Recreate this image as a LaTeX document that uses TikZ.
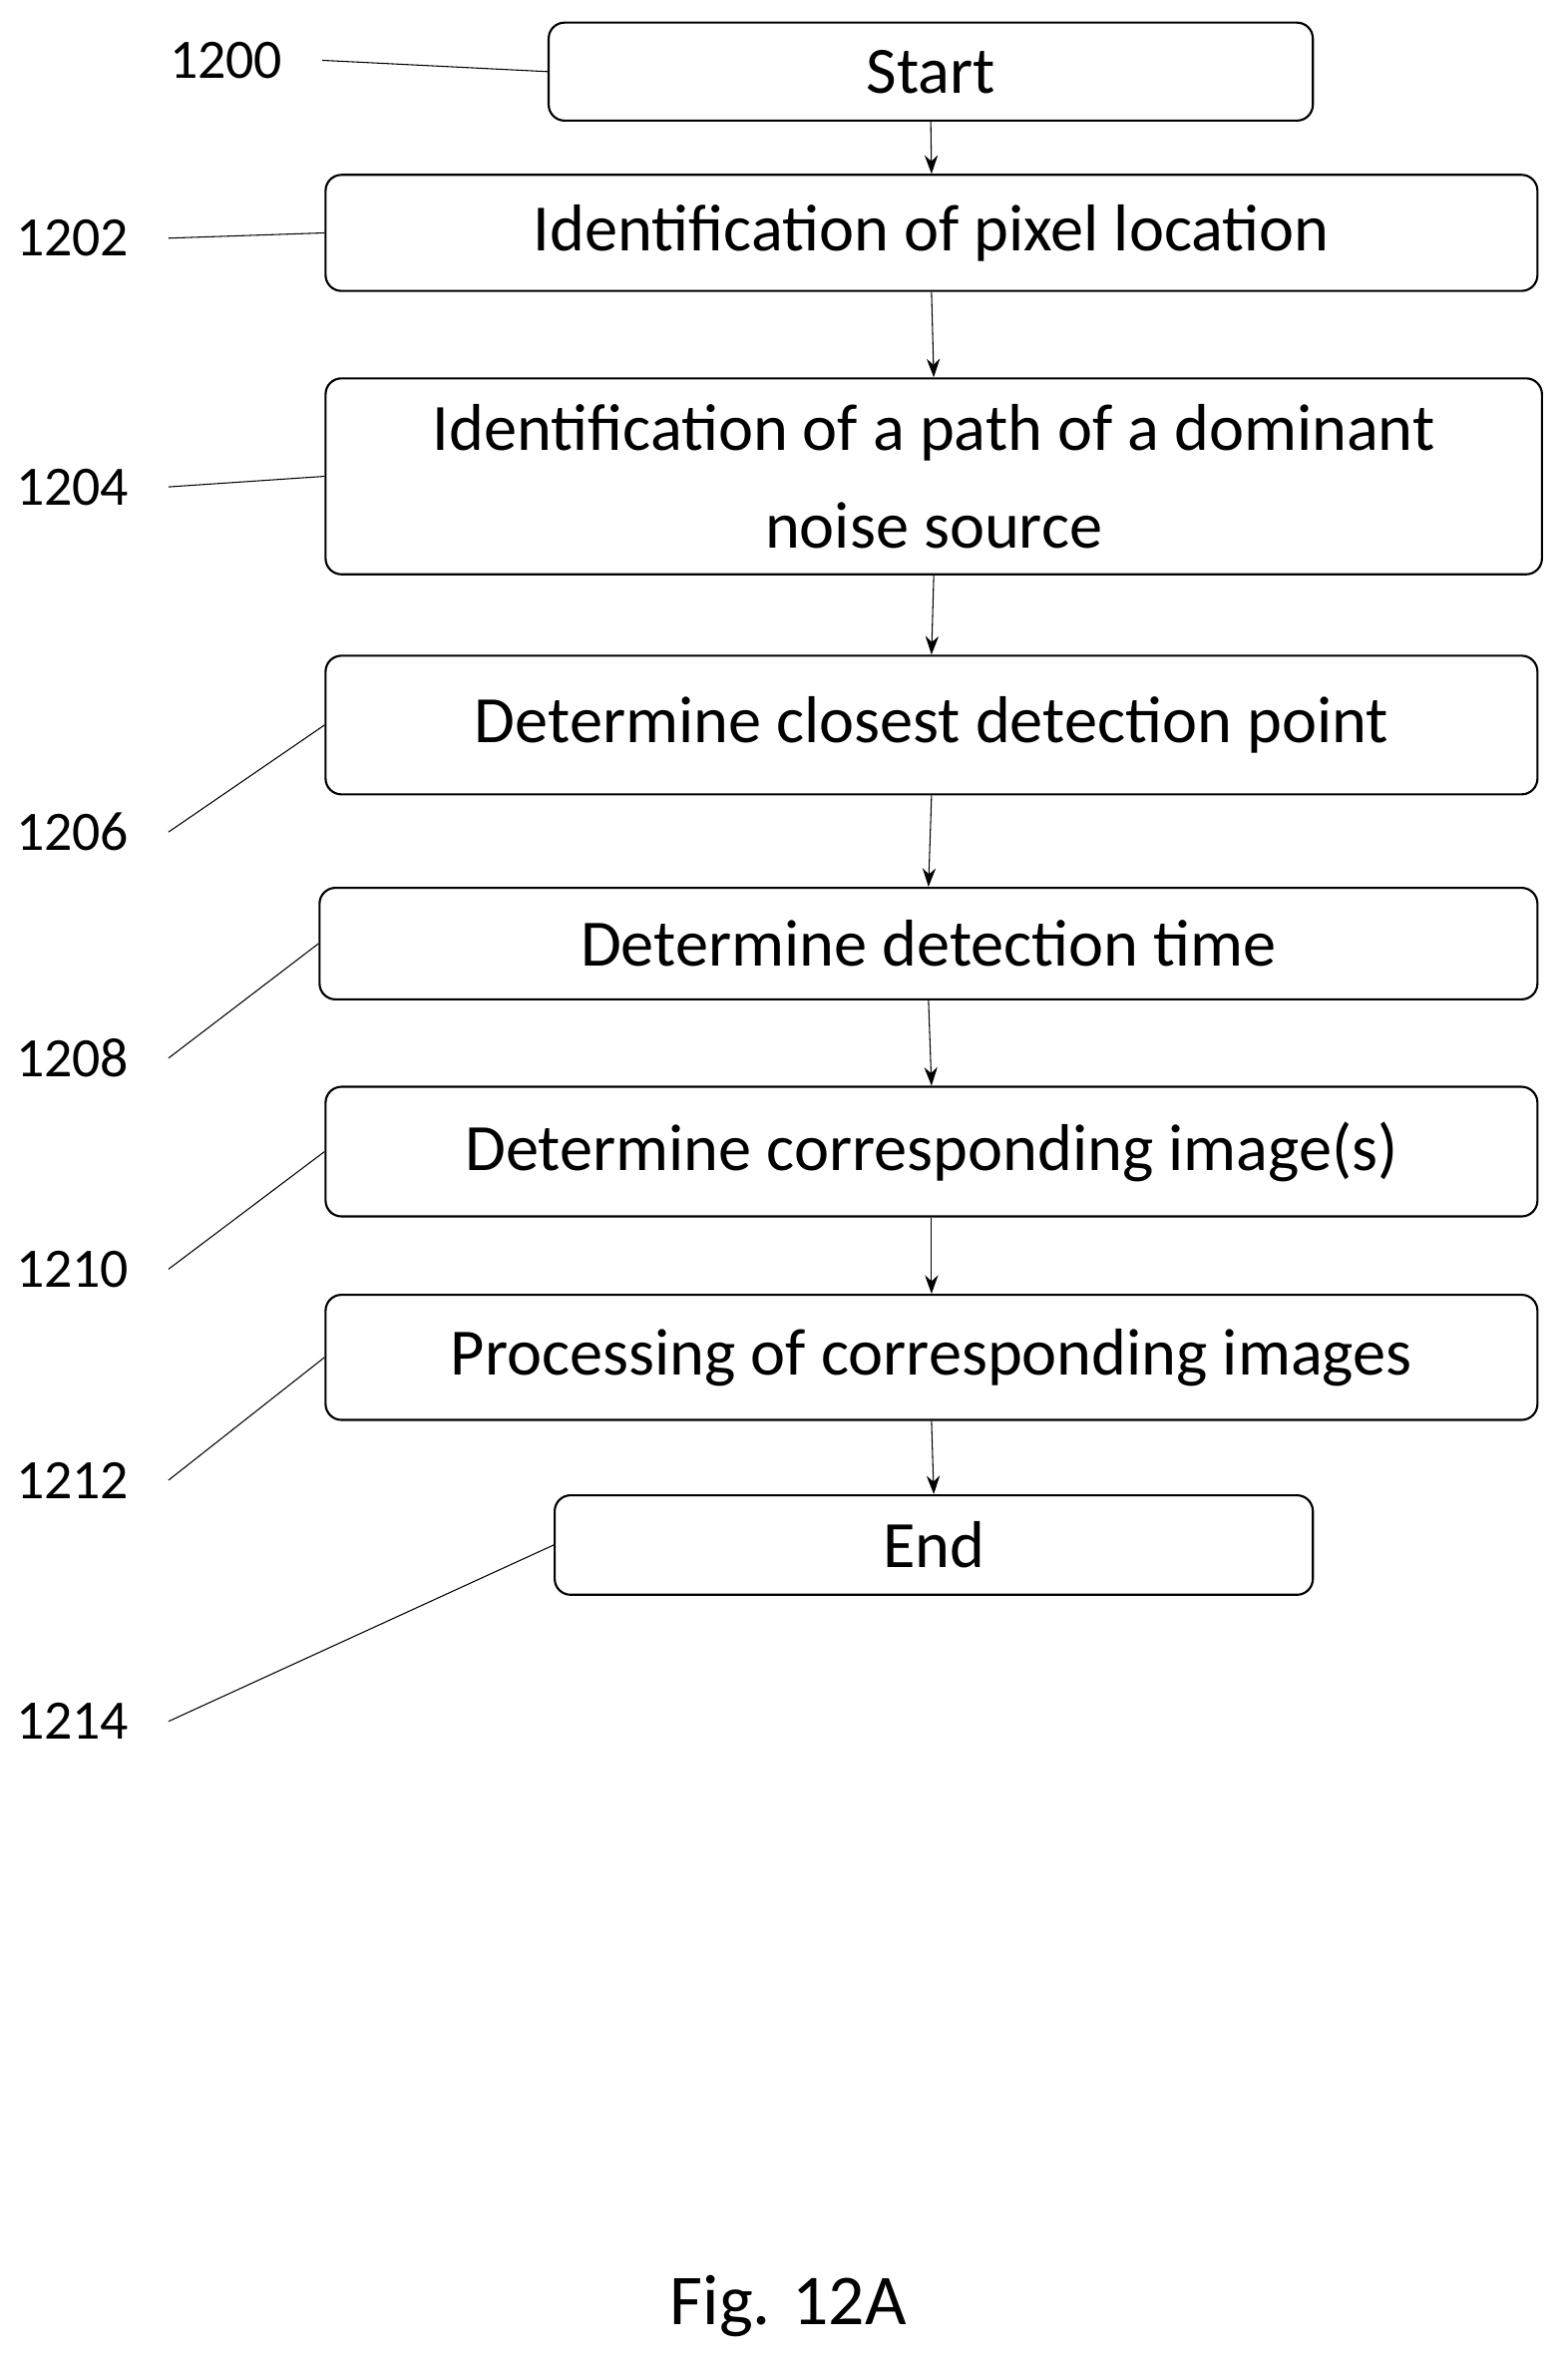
\documentclass[tikz,border=0pt]{standalone}
\usepackage{fontspec}
\setmainfont{Carlito}
\usetikzlibrary{arrows.meta}
\begin{document}
\begin{tikzpicture}[>={Stealth[length=7pt,width=5pt]},
	step node/.style = {rectangle,draw,rounded corners=6pt,thick,align=center,font=\fontsize{25}{37}\selectfont},
	ref node/.style = {font=\fontsize{21}{24}\selectfont,inner sep=2pt}]
	\useasboundingbox (0,0) rectangle (20.8,-31.42);

	\node[step node,minimum width=10.14cm,minimum height=1.3cm] (start) at (12.35,-0.95) {Start};
	\node[step node,minimum width=16.08cm,minimum height=1.54cm] (pixel) at (12.36,-3.09) {Identification of pixel location};
	\node[step node,minimum width=16.14cm,minimum height=2.6cm] (path) at (12.39,-6.32) {Identification of a path of a dominant\\noise source};
	\node[step node,minimum width=16.08cm,minimum height=1.84cm] (closest) at (12.36,-9.62) {Determine closest detection point};
	\node[step node,minimum width=16.16cm,minimum height=1.48cm] (time) at (12.32,-12.52) {Determine detection time};
	\node[step node,minimum width=16.08cm,minimum height=1.72cm] (images) at (12.36,-15.28) {Determine corresponding image(s)};
	\node[step node,minimum width=16.08cm,minimum height=1.66cm] (process) at (12.36,-18.01) {Processing of corresponding images};
	\node[step node,minimum width=10.06cm,minimum height=1.32cm] (end) at (12.39,-20.5) {End};

	\node[ref node] (r1200) at (3.0,-0.8) {1200};
	\node[ref node] (r1202) at (0.96,-3.16) {1202};
	\node[ref node] (r1204) at (0.96,-6.46) {1204};
	\node[ref node] (r1206) at (0.96,-11.04) {1206};
	\node[ref node] (r1208) at (0.96,-14.04) {1208};
	\node[ref node] (r1210) at (0.96,-16.84) {1210};
	\node[ref node] (r1212) at (0.96,-19.64) {1212};
	\node[ref node] (r1214) at (0.96,-22.84) {1214};
	\node[font=\fontsize{27}{31}\selectfont] (fig) at (10.46,-30.6) {Fig. 12A};

	\foreach \a/\b in {start/pixel,pixel/path,path/closest,closest/time,time/images,images/process,process/end}
		\draw[->] (\a.south) -- (\b.north);

	\foreach \r/\b in {r1200/start,r1202/pixel,r1204/path,r1206/closest,r1208/time,r1210/images,r1212/process,r1214/end}
		\draw ([xshift=0.45cm]\r.east) -- (\b.west);
\end{tikzpicture}
\end{document}
